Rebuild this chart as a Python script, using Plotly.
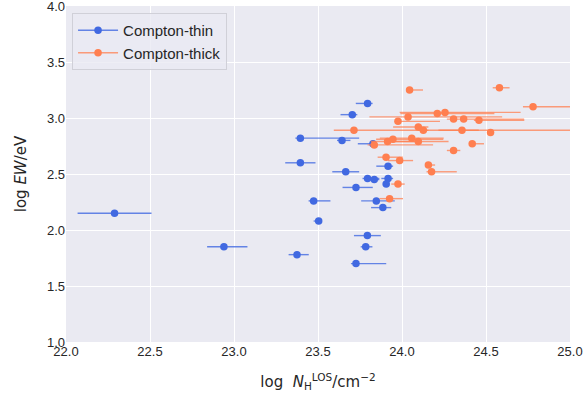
import plotly.graph_objects as go

# Compton-thin
thin_x = [23.795, 23.704, 23.395, 23.643, 23.827, 23.395, 23.917, 23.665, 23.795, 23.835,
          23.917, 23.906, 23.726, 23.474, 23.847, 23.886, 23.504, 23.794, 23.784, 23.726,
          22.289, 22.940, 23.375]
thin_y = [3.13, 3.03, 2.82, 2.80, 2.77, 2.60, 2.57, 2.52, 2.46, 2.45,
          2.46, 2.41, 2.38, 2.26, 2.26, 2.20, 2.08, 1.95, 1.85, 1.70,
          2.15, 1.85, 1.78]
thin_xerr_minus = [0.07, 0.07, 0.03, 0.03, 0.09, 0.09, 0.07, 0.08, 0.03, 0.03,
                   0.04, 0.02, 0.08, 0.03, 0.09, 0.07, 0.03, 0.08, 0.03, 0.03,
                   0.22, 0.10, 0.05]
thin_xerr_plus = [0.03, 0.03, 0.35, 0.05, 0.02, 0.09, 0.03, 0.08, 0.07, 0.03,
                  0.03, 0.02, 0.10, 0.10, 0.11, 0.05, 0.01, 0.08, 0.04, 0.18,
                  0.22, 0.14, 0.07]

# Compton-thick
thick_x = [24.045, 24.580, 24.780, 24.210, 24.256, 24.036, 24.307, 24.367, 24.458, 23.976,
           24.097, 24.127, 23.714, 24.357, 24.527, 24.058, 23.946, 23.914, 24.097, 23.835,
           24.418, 24.307, 23.905, 23.986, 24.157, 24.176, 23.976, 23.926]
thick_y = [3.25, 3.27, 3.10, 3.04, 3.05, 3.01, 2.99, 2.99, 2.98, 2.97,
           2.92, 2.89, 2.89, 2.89, 2.87, 2.82, 2.81, 2.79, 2.79, 2.76,
           2.77, 2.71, 2.65, 2.62, 2.58, 2.52, 2.41, 2.28]
thick_xerr_minus = [0.01, 0.04, 0.06, 0.22, 0.27, 0.23, 0.04, 0.02, 0.03, 0.02,
                    0.15, 0.03, 0.12, 0.14, 0.02, 0.19, 0.10, 0.10, 0.20, 0.04,
                    0.02, 0.04, 0.05, 0.07, 0.02, 0.03, 0.04, 0.06]
thick_xerr_plus = [0.08, 0.06, 0.50, 0.34, 0.45, 0.56, 0.42, 0.02, 0.27, 0.25,
                   0.06, 0.03, 1.30, 0.10, 0.02, 0.19, 0.30, 0.20, 0.18, 0.35,
                   0.07, 0.04, 0.10, 0.08, 0.04, 0.15, 0.04, 0.08]

x_ticks = [22.0, 22.5, 23.0, 23.5, 24.0, 24.5, 25.0]
y_ticks = [1.0, 1.5, 2.0, 2.5, 3.0, 3.5, 4.0]

BLUE = "#4169E1"
ORANGE = "#FF7F50"
BLUE_ERR = "rgba(65,105,225,0.8)"
ORANGE_ERR = "rgba(255,127,80,0.75)"

fig = go.Figure()

for name, xs, ys, em, ep, col, ecol in [
    ("Compton-thin", thin_x, thin_y, thin_xerr_minus, thin_xerr_plus, BLUE, BLUE_ERR),
    ("Compton-thick", thick_x, thick_y, thick_xerr_minus, thick_xerr_plus, ORANGE, ORANGE_ERR),
]:
    fig.add_trace(go.Scatter(
        x=xs, y=ys, mode="markers", name=name, showlegend=False,
        marker=dict(color=col, size=7.5, line=dict(width=0)),
        error_x=dict(type="data", symmetric=False, array=ep, arrayminus=em,
                     color=ecol, thickness=1.4, width=0),
    ))

# legend entries (errorbar style: marker with line)
for name, col, ecol in [("Compton-thin", BLUE, BLUE_ERR), ("Compton-thick", ORANGE, ORANGE_ERR)]:
    fig.add_trace(go.Scatter(
        x=[None], y=[None], mode="lines+markers", name=name,
        marker=dict(color=col, size=7.5),
        line=dict(color=ecol, width=1.4),
    ))

fig.update_layout(
    width=584, height=400,
    margin=dict(l=66, r=14, t=6, b=58),
    paper_bgcolor="white",
    plot_bgcolor="#EAEAF2",
    font=dict(family="Liberation Sans, Arial, sans-serif", size=13, color="#262626"),
    showlegend=True,
    legend=dict(
        x=0.012, y=0.979, xanchor="left", yanchor="top",
        bgcolor="rgba(234,234,242,0.8)", bordercolor="#D0D0D8", borderwidth=1,
        font=dict(size=15, color="#262626"),
        itemwidth=40, tracegroupgap=4,
    ),
    xaxis=dict(
        range=[22, 25], tickvals=x_ticks, ticktext=[f"{v:.1f}" for v in x_ticks],
        showgrid=True, gridcolor="white", gridwidth=1.2, zeroline=False,
        showline=False, ticks="", automargin=False, ticklabeloverflow="allow",
        title=dict(text="log  <i>N</i><sub>H</sub><sup>LOS</sup>/cm<sup>−2</sup>",
                   font=dict(family="DejaVu Sans", size=15), standoff=18),
        tickfont=dict(size=13),
    ),
    yaxis=dict(
        range=[1, 4], tickvals=y_ticks, ticktext=[f"{v:.1f}" for v in y_ticks],
        showgrid=True, gridcolor="white", gridwidth=1.2, zeroline=False,
        showline=False, ticks="", automargin=False, ticklabeloverflow="allow",
        title=dict(text="log <i>EW</i>/eV", font=dict(family="DejaVu Sans", size=15), standoff=16),
        tickfont=dict(size=13),
    ),
)

fig.write_html("out.html", config={"displayModeBar": False},
               post_script="document.body.style.margin='0px';")
